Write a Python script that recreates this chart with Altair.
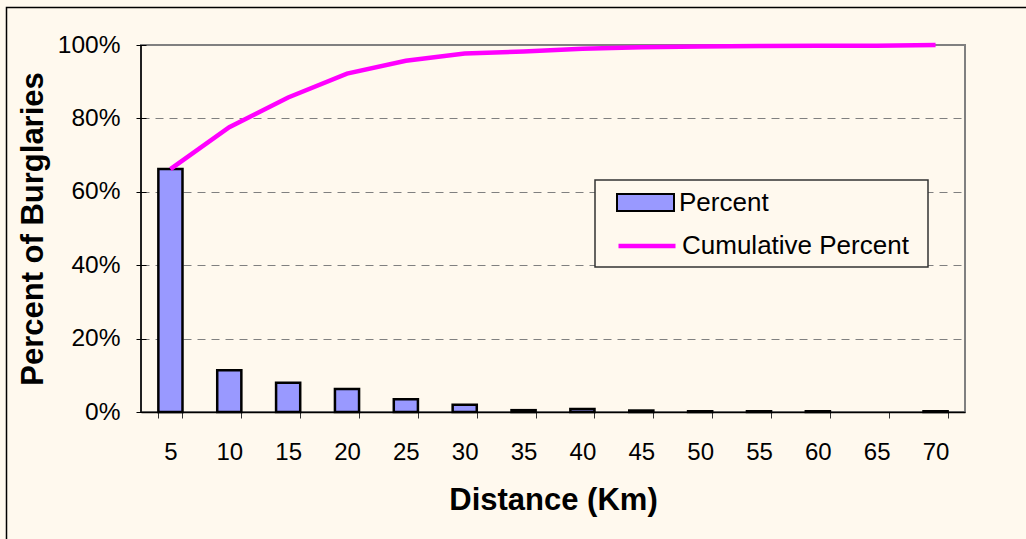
import altair as alt
import pandas as pd

distance = ["5", "10", "15", "20", "25", "30", "35", "40", "45", "50", "55", "60", "65", "70"]
percent = [66.2, 11.4, 8.0, 6.3, 3.5, 2.0, 0.5, 0.8, 0.4, 0.2, 0.2, 0.2, 0.0, 0.2]
cumulative = [66.2, 77.6, 85.7, 92.2, 95.7, 97.7, 98.2, 99.0, 99.4, 99.6, 99.7, 99.8, 99.8, 100.0]
y_ticks = [0.0, 0.1, 0.2, 0.3, 0.4, 0.5, 0.6, 0.7, 0.8, 0.9, 1.0]

df = pd.DataFrame({
    "Distance": distance,
    "Percent": [p / 100 for p in percent],
    "Cumulative": [c / 100 for c in cumulative],
    "s1": ["Percent"] * len(distance),
    "s2": ["Cumulative Percent"] * len(distance),
})

FONT = "Liberation Sans"
BG = "#FFF9EE"

x_enc = alt.X(
    "Distance:O", sort=distance,
    scale=alt.Scale(paddingInner=0.59, paddingOuter=0.295),
    axis=alt.Axis(
        title="Distance (Km)", labelAngle=0, tickBand="extent", tickSize=6,
        tickColor="#333333", domainColor="black", domainWidth=1.5,
        labelFontSize=24, labelPadding=22, labelColor="black",
        titleFontSize=31, titleFontWeight="bold", titlePadding=21, titleColor="black",
    ),
)

y_axis = alt.Axis(
    title="Percent of Burglaries", values=y_ticks, format="%",
    labelExpr="round(datum.value*10) % 2 == 0 ? datum.label : ''",
    offset=-5, domain=False,
    tickSize=10, tickColor="black", tickWidth=1,
    labelFontSize=24.5, labelPadding=16, labelColor="black",
    titleFontSize=31, titleFontWeight="bold", titlePadding=8, titleColor="black",
    grid=True, gridColor="#808080", gridDash=[8, 6], gridWidth=1,
    gridOpacity={"condition": {"test": "round(datum.value*10) % 2 == 1", "value": 0}, "value": 1},
)

frame_df = pd.DataFrame({"k": [0]})
outer = alt.Chart(frame_df).mark_rect(fill=None, stroke="black", strokeWidth=1.5, clip=False).encode(
    x=alt.value(-134.5), y=alt.value(-37.5), x2=alt.value(1500), y2=alt.value(1500)
)

y_domain = alt.Chart(frame_df).mark_rule(color="black", strokeWidth=1.5).encode(
    x=alt.value(0), y=alt.value(0), y2=alt.value(367)
)

bars = alt.Chart(df).mark_bar(stroke="black", strokeWidth=2.5).encode(
    x=x_enc,
    y=alt.Y("Percent:Q", scale=alt.Scale(domain=[0, 1], nice=False), axis=y_axis),
    fill=alt.Fill(
        "s1:N",
        scale=alt.Scale(domain=["Percent"], range=["#9999FF"]),
        legend=alt.Legend(
            title=None, orient="none", legendX=475, legendY=128, padding=0,
            symbolType="M-1,-0.3H1V0.3H-1Z", symbolSize=3249,
            symbolStrokeColor="black", symbolStrokeWidth=2,
            labelFontSize=26, labelFont=FONT, labelColor="black", labelOffset=4,
            labelLimit=400, zindex=1,
        ),
    ),
    strokeOpacity=alt.condition("datum.Percent > 0", alt.value(1), alt.value(0)),
)

line = alt.Chart(df).mark_line(strokeWidth=4.5).encode(
    x=alt.X("Distance:O", sort=distance),
    y=alt.Y("Cumulative:Q", title="Percent of Burglaries"),
    stroke=alt.Stroke(
        "s2:N",
        scale=alt.Scale(domain=["Cumulative Percent"], range=["#FF00FF"]),
        legend=alt.Legend(
            title=None, orient="none", legendX=475, legendY=170, padding=0,
            symbolType="stroke", symbolSize=3249, symbolStrokeWidth=4.5,
            labelFontSize=26, labelFont=FONT, labelColor="black", labelOffset=4,
            labelLimit=400, zindex=1,
        ),
    ),
)

legend_box = alt.Chart(frame_df).mark_rect(fill=BG, stroke="#333333", strokeWidth=1.5).encode(
    x=alt.value(454), y=alt.value(135), x2=alt.value(787), y2=alt.value(222)
)

chart = alt.layer(outer, bars, line, y_domain, legend_box).properties(
    width=824, height=367,
    autosize=alt.AutoSizeParams(type="none"),
    padding={"left": 141, "top": 45, "right": 61, "bottom": 127},
    background=BG,
).configure_view(
    stroke="#808080", strokeWidth=2
).configure_axis(
    labelFont=FONT, titleFont=FONT
).configure_legend(
    labelFont=FONT
)

chart.save("out.html", embed_options={"renderer": "svg", "actions": False})
